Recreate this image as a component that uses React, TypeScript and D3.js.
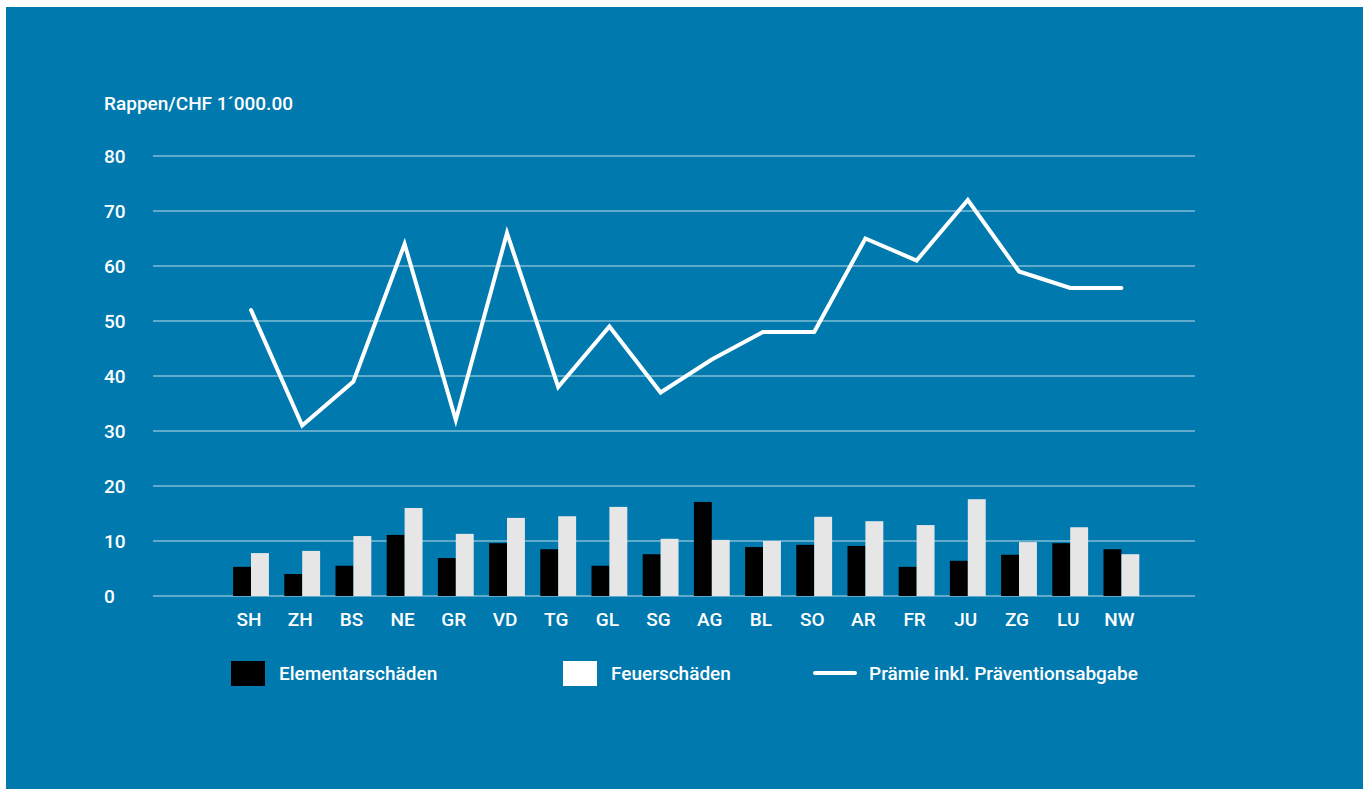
import React, { useRef, useEffect } from "react";
import * as d3 from "d3";

// Kantone
const cantons = ["SH", "ZH", "BS", "NE", "GR", "VD", "TG", "GL", "SG", "AG", "BL", "SO", "AR", "FR", "JU", "ZG", "LU", "NW"];
// Elementarschäden
const elementar = [5.3, 4.0, 5.5, 11.1, 6.9, 9.6, 8.5, 5.5, 7.6, 17.1, 8.9, 9.3, 9.1, 5.3, 6.4, 7.5, 9.6, 8.5];
// Feuerschäden
const feuer = [7.8, 8.2, 10.9, 16.0, 11.3, 14.2, 14.5, 16.2, 10.4, 10.2, 10.0, 14.4, 13.6, 12.9, 17.6, 9.8, 12.5, 7.6];
// Prämie inkl. Präventionsabgabe
const praemie = [52, 31, 39, 64, 32, 66, 38, 49, 37, 43, 48, 48, 65, 61, 72, 59, 56, 56];
const yTicks = [0, 10, 20, 30, 40, 50, 60, 70, 80];

const W = 1363;
const H = 789;
const BG = "#0079ae";
const FONT = "Roboto, 'Noto Sans', sans-serif";
const FS = 19;

const App: React.FC = () => {
  const svgRef = useRef<SVGSVGElement>(null);

  useEffect(() => {
    const svg = d3.select(svgRef.current);
    svg.selectAll("*").remove();

    svg.append("rect").attr("x", 6).attr("y", 7).attr("width", W - 6).attr("height", H - 7).attr("fill", BG);

    const x = d3.scaleBand<string>().domain(cantons).range([225.4, 1147]).paddingInner(0.3).paddingOuter(0.15);
    const y = d3.scaleLinear().domain([0, 80]).range([596, 156]);
    const half = x.bandwidth() / 2;
    const center = (c: string) => (x(c) ?? 0) + x.bandwidth() / 2;

    // grid
    const grid = svg.append("g");
    grid
      .selectAll("line")
      .data(yTicks)
      .join("line")
      .attr("x1", 153)
      .attr("x2", 1195)
      .attr("y1", (d) => y(d))
      .attr("y2", (d) => y(d))
      .attr("stroke", "#ffffff")
      .attr("stroke-opacity", 0.75)
      .attr("stroke-width", 1);

    grid
      .selectAll("text")
      .data(yTicks)
      .join("text")
      .attr("x", 104)
      .attr("y", (d) => y(d) + 6.5)
      .attr("fill", "#fff")
      .attr("font-family", FONT)
      .attr("font-weight", 500)
      .attr("font-size", FS)
      .text((d) => d);

    svg
      .append("text")
      .attr("x", 104)
      .attr("y", 110)
      .attr("fill", "#fff")
      .attr("font-family", FONT)
      .attr("font-weight", 500)
      .attr("font-size", FS)
      .text("Rappen/CHF 1´000.00");

    // bars
    const bars = svg.append("g");
    bars
      .selectAll("rect.el")
      .data(cantons)
      .join("rect")
      .attr("class", "el")
      .attr("x", (c) => x(c) ?? 0)
      .attr("y", (c, i) => y(elementar[i]))
      .attr("width", half)
      .attr("height", (c, i) => y(0) - y(elementar[i]))
      .attr("fill", "#000");
    bars
      .selectAll("rect.fe")
      .data(cantons)
      .join("rect")
      .attr("class", "fe")
      .attr("x", (c) => (x(c) ?? 0) + half)
      .attr("y", (c, i) => y(feuer[i]))
      .attr("width", half)
      .attr("height", (c, i) => y(0) - y(feuer[i]))
      .attr("fill", "#e6e6e6");

    // x labels
    svg
      .append("g")
      .selectAll("text")
      .data(cantons)
      .join("text")
      .attr("x", (c) => center(c) - 2)
      .attr("y", 626)
      .attr("text-anchor", "middle")
      .attr("fill", "#fff")
      .attr("font-family", FONT)
      .attr("font-weight", 500)
      .attr("font-size", FS)
      .text((d) => d);

    // line
    const line = d3
      .line<number>()
      .x((d, i) => center(cantons[i]))
      .y((d) => y(d));
    svg
      .append("path")
      .datum(praemie)
      .attr("d", line)
      .attr("fill", "none")
      .attr("stroke", "#fff")
      .attr("stroke-width", 4)
      .attr("stroke-linecap", "round")
      .attr("stroke-linejoin", "miter");

    // legend
    const leg = svg.append("g").attr("font-family", FONT).attr("font-weight", 500).attr("font-size", FS).attr("fill", "#fff");
    leg.append("rect").attr("x", 231).attr("y", 661).attr("width", 34).attr("height", 25).attr("fill", "#000");
    leg.append("text").attr("x", 279).attr("y", 680).text("Elementarschäden");
    leg.append("rect").attr("x", 563).attr("y", 661).attr("width", 34).attr("height", 25).attr("fill", "#fff");
    leg.append("text").attr("x", 611).attr("y", 680).text("Feuerschäden");
    leg
      .append("line")
      .attr("x1", 815)
      .attr("x2", 855)
      .attr("y1", 673)
      .attr("y2", 673)
      .attr("stroke", "#fff")
      .attr("stroke-width", 4)
      .attr("stroke-linecap", "round");
    leg.append("text").attr("x", 869).attr("y", 680).text("Prämie inkl. Präventionsabgabe");
  }, []);

  return <svg ref={svgRef} width={W} height={H} style={{ position: "absolute", left: 0, top: 0, background: "#fff" }} />;
};

export default App;
